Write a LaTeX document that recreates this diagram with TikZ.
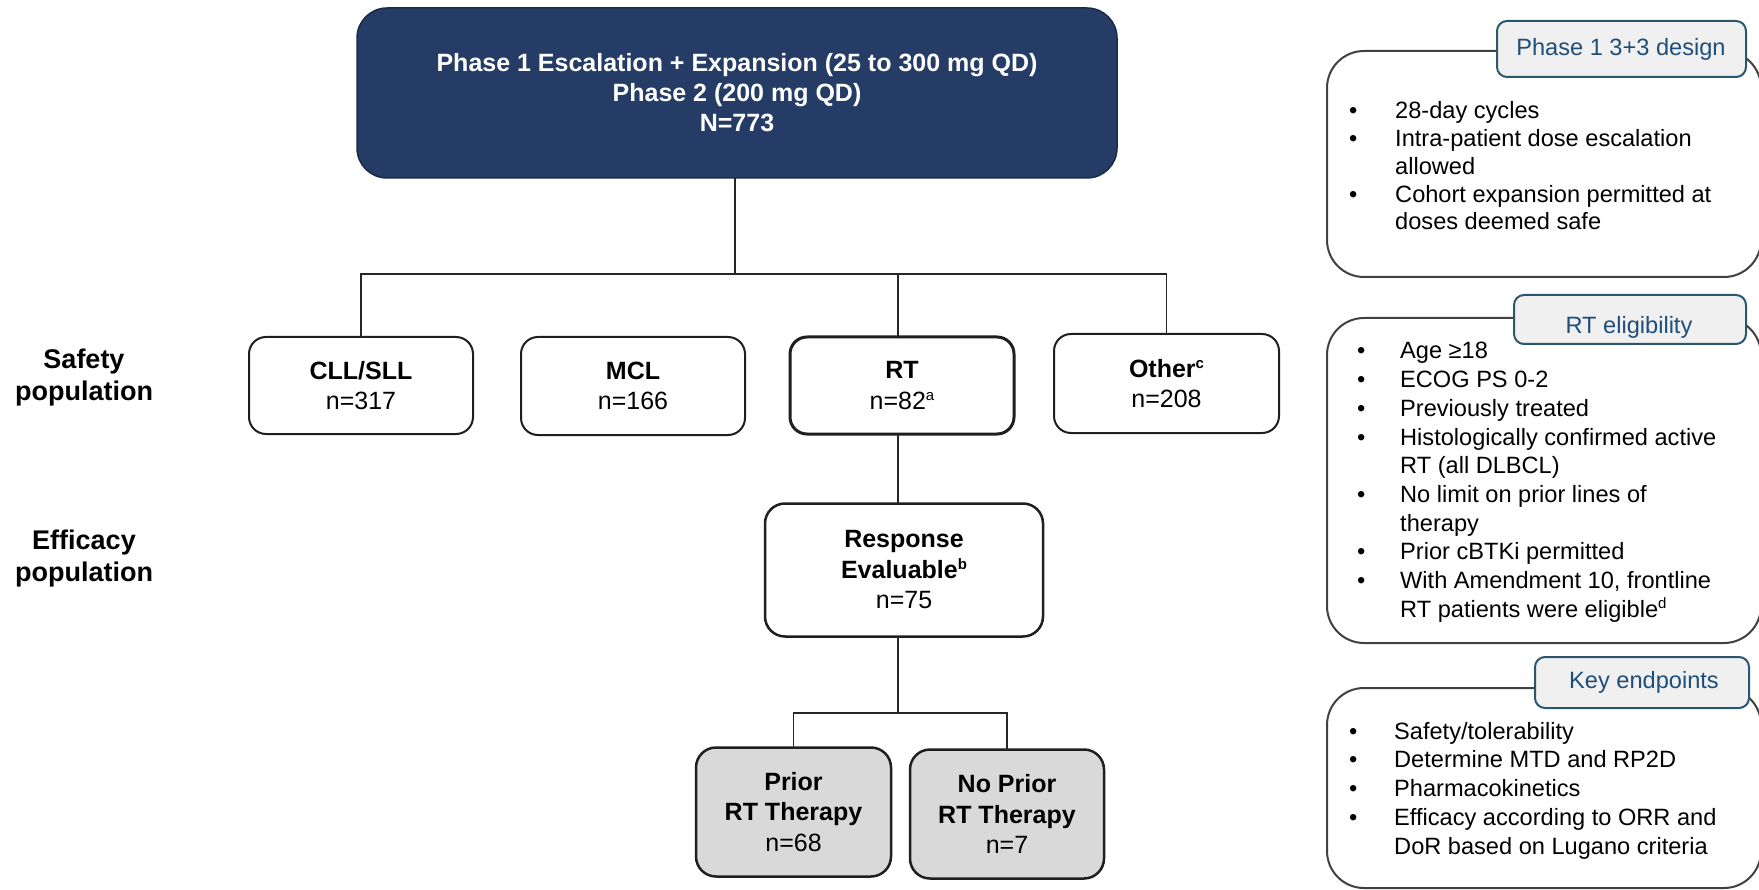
\documentclass[tikz,border=0pt]{standalone}
\usepackage{fontspec}
\setmainfont{Liberation Sans}
\definecolor{navy}{HTML}{253D66}
\definecolor{boxgray}{HTML}{D9D9D9}
\definecolor{panelline}{HTML}{404040}
\definecolor{tagline}{HTML}{2A5670}
\definecolor{tagfill}{HTML}{F0F0F0}
\definecolor{tagtext}{HTML}{1F4E79}
\newcommand\mysup[1]{\raisebox{8.5pt}{\fontsize{15}{15}\selectfont #1}}
\newcommand\mybul[1]{\makebox[#1][l]{•}}
\begin{document}
\begin{tikzpicture}[x=1pt,y=-1pt,
  box/.style={draw=black!88, line width=2pt, rounded corners=17pt, fill=white, inner sep=0pt, outer sep=0pt, align=center, font=\fontsize{25}{30.5}\selectfont},
  conn/.style={draw=black!85, line width=1.8pt},
  panel/.style={draw=panelline, line width=2pt, rounded corners=37pt},
  tag/.style={draw=tagline, line width=2pt, fill=tagfill, rounded corners=10pt},
  tagtxt/.style={text=tagtext, font=\fontsize{23.6}{28}\selectfont, inner sep=0pt},
  lbl/.style={font=\bfseries\fontsize{27}{32}\selectfont, align=center, inner sep=0pt},
  bl/.style={inner sep=0pt, anchor=base west}
]
\useasboundingbox (0,0) rectangle (1759,890);

% main flow
\node[box, fill=navy, draw=navy!70!black, line width=1.5pt, text=white, rounded corners=30pt,
      minimum width=760pt, minimum height=170pt, font=\bfseries\fontsize{25}{30}\selectfont]
      (top) at (737,93) {Phase 1 Escalation + Expansion (25 to 300 mg QD)\\Phase 2 (200 mg QD)\\N=773};

\node[box, minimum width=224pt, minimum height=97pt] (cll) at (361,385.5) {\textbf{CLL/SLL}\\n=317};
\node[box, minimum width=224pt, minimum height=98pt] (mcl) at (633,386) {\textbf{MCL}\\n=166};
\node[box, line width=3pt, minimum width=224pt, minimum height=97pt] (rt) at (902,385.5) {\textbf{RT}\\n=82\mysup{a}};
\node[box, minimum width=225pt, minimum height=99pt] (oth) at (1166.5,383.5) {\textbf{Other\mysup{c}}\\n=208};

\node[box, line width=2.5pt, rounded corners=20pt, minimum width=278pt, minimum height=133pt] (resp) at (904,570)
  {\textbf{Response}\\\textbf{Evaluable\mysup{b}}\\n=75};
\node[box, line width=2.5pt, rounded corners=20pt, fill=boxgray, minimum width=195pt, minimum height=129pt] (prior) at (793.5,812)
  {\textbf{Prior}\\\textbf{RT Therapy}\\n=68};
\node[box, line width=2.5pt, rounded corners=20pt, fill=boxgray, minimum width=194pt, minimum height=129pt] (noprior) at (1007,814)
  {\textbf{No Prior}\\\textbf{RT Therapy}\\n=7};

\coordinate (bus) at (735,274);
\coordinate (bus2) at (0,713);
\coordinate (rtx) at (898,0);
\draw[conn] (top.south -| bus) -- (bus);
\draw[conn] (cll.north) -- (cll.north |- bus) -- (oth.north |- bus) -- (oth.north);
\draw[conn] (rt.north -| rtx) -- (rtx |- bus);
\draw[conn] (rt.south -| rtx) -- (rtx |- resp.north);
\draw[conn] (resp.south -| rtx) -- (rtx |- bus2);
\draw[conn] (prior.north) -- (prior.north |- bus2) -- (noprior.north |- bus2) -- (noprior.north);

% side labels
\node[lbl] (safety) at (84,377.5) {Safety\\population};
\node[lbl] (efficacy) at (84,559) {Efficacy\\population};

% panel 1
\draw[panel] (1327,51) rectangle (1761,277);
\draw[tag] (1497,21) rectangle (1746,77);
\node[tagtxt] (t1) at (1621,49) {Phase 1 3+3 design};
\node[bl] (p1text) at (1349,119) {\fontsize{23.6}{27.75}\selectfont\begin{tabular}[t]{@{}l@{}}
\mybul{46pt}28-day cycles\\
\mybul{46pt}Intra-patient dose escalation\\
\hspace*{46pt}allowed\\
\mybul{46pt}Cohort expansion permitted at\\
\hspace*{46pt}doses deemed safe
\end{tabular}};

% panel 2
\draw[panel] (1327,318) rectangle (1761,643);
\draw[tag] (1514,295) rectangle (1746,344);
\node[tagtxt] (t2) at (1629,327) {RT eligibility};
\node[bl] (p2text) at (1357,359) {\fontsize{23.6}{28.67}\selectfont\begin{tabular}[t]{@{}l@{}}
\mybul{43pt}Age ≥18\\
\mybul{43pt}ECOG PS 0-2\\
\mybul{43pt}Previously treated\\
\mybul{43pt}Histologically confirmed active\\
\hspace*{43pt}RT (all DLBCL)\\
\mybul{43pt}No limit on prior lines of\\
\hspace*{43pt}therapy\\
\mybul{43pt}Prior cBTKi permitted\\
\mybul{43pt}With Amendment 10, frontline\\
\hspace*{43pt}RT patients were eligible\mysup{d}
\end{tabular}};

% panel 3
\draw[panel] (1327,688) rectangle (1761,888);
\draw[tag] (1535,657) rectangle (1749,708);
\node[tagtxt] (t3) at (1644,682) {Key endpoints};
\node[bl] (p3text) at (1349,739) {\fontsize{23.6}{28.75}\selectfont\begin{tabular}[t]{@{}l@{}}
\mybul{45pt}Safety/tolerability\\
\mybul{45pt}Determine MTD and RP2D\\
\mybul{45pt}Pharmacokinetics\\
\mybul{45pt}Efficacy according to ORR and\\
\hspace*{45pt}DoR based on Lugano criteria
\end{tabular}};
\end{tikzpicture}
\end{document}
